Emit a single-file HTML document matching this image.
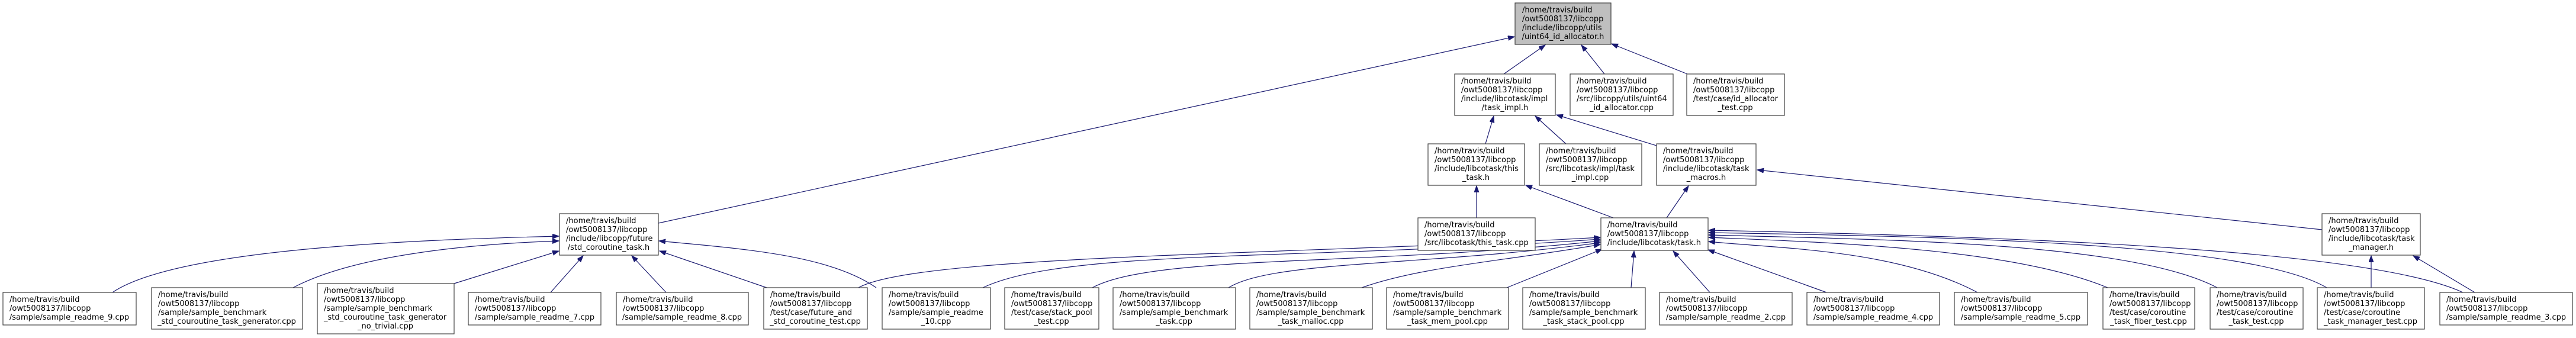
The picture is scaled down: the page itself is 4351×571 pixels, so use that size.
<!DOCTYPE html>
<html><head><meta charset="utf-8"><style>
html,body{margin:0;padding:0;background:#fff;}
svg{display:block;}
text{font-family:"DejaVu Sans","Liberation Sans",sans-serif;font-size:13px;fill:#000;}
.b{fill:#fff;stroke:#404040;stroke-width:1.2;}
.g{fill:#bfbfbf;stroke:#404040;stroke-width:1.2;}
.e{fill:none;stroke:#191970;stroke-width:1.2;marker-end:url(#a);}
.c{text-anchor:middle;}
</style></head><body>
<svg width="4351" height="571" viewBox="0 0 4351 571" xmlns="http://www.w3.org/2000/svg">
<defs><marker id="a" markerUnits="userSpaceOnUse" markerWidth="12" markerHeight="10" refX="11" refY="4" orient="auto"><path d="M0,0 L11,4 L0,8 z" fill="#191970" stroke="#191970"/></marker></defs>

<!-- edges -->
<path class="e" d="M1112,377 L2558,62"/>
<path class="e" d="M2540,125 L2610,76"/>
<path class="e" d="M2710,125 L2671,76"/>
<path class="e" d="M2850,125 L2722,74"/>
<path class="e" d="M2509,243 L2523,196"/>
<path class="e" d="M2645,243 L2593,196"/>
<path class="e" d="M2798,246 L2629,194"/>
<path class="e" d="M2494,368 L2494,314"/>
<path class="e" d="M2725,368 L2577,313"/>
<path class="e" d="M2815,368 L2852,314"/>
<path class="e" d="M3922,388 L2968,287"/>
<path class="e" d="M4005,486 L4005,432"/>
<path class="e" d="M4180,494 L4076,432"/>

<!-- std_coroutine_task.h children -->
<path class="e" d="M190,494 C300,420 700,405 944,399"/>
<path class="e" d="M495,486 C600,430 800,412 944,407"/>
<path class="e" d="M767,479 L944,424"/>
<path class="e" d="M930,494 L985,432"/>
<path class="e" d="M1125,494 L1067,432"/>
<path class="e" d="M1295,486 L1114,424"/>
<path class="e" d="M1480,486 C1400,430 1250,420 1113,407"/>

<!-- task.h children -->
<path class="e" d="M1450,486 C1550,430 2200,430 2703,401"/>
<path class="e" d="M1660,486 C1800,420 2200,440 2703,404"/>
<path class="e" d="M1845,486 C1950,430 2300,450 2703,407"/>
<path class="e" d="M2075,486 C2150,440 2400,450 2703,410"/>
<path class="e" d="M2300,486 C2400,450 2550,440 2703,413"/>
<path class="e" d="M2545,486 L2706,421"/>
<path class="e" d="M2755,486 L2760,424"/>
<path class="e" d="M2888,494 L2826,424"/>
<path class="e" d="M3085,494 L2885,422"/>
<path class="e" d="M3340,494 C3200,420 3000,420 2886,408"/>
<path class="e" d="M3560,486 C3400,420 3100,410 2886,401"/>
<path class="e" d="M3745,486 C3600,410 3200,405 2886,397"/>
<path class="e" d="M3930,486 C3800,410 3300,400 2886,393"/>
<path class="e" d="M4160,494 C4000,420 3400,400 2886,389"/>

<!-- nodes -->
<rect class="g" x="2559" y="5" width="162" height="70"/>
<text x="2571" y="21">/home/travis/build</text><text x="2571" y="36">/owt5008137/libcopp</text><text x="2571" y="51">/include/libcopp/utils</text><text x="2640" y="66" class="c">/uint64_id_allocator.h</text>

<rect class="b" x="2457" y="125" width="170" height="70"/>
<text x="2468" y="141">/home/travis/build</text><text x="2468" y="156">/owt5008137/libcopp</text><text x="2468" y="171">/include/libcotask/impl</text><text x="2542" y="186" class="c">/task_impl.h</text>

<rect class="b" x="2652" y="125" width="174" height="70"/>
<text x="2663" y="141">/home/travis/build</text><text x="2663" y="156">/owt5008137/libcopp</text><text x="2663" y="171">/src/libcopp/utils/uint64</text><text x="2739" y="186" class="c">_id_allocator.cpp</text>

<rect class="b" x="2849" y="125" width="165" height="70"/>
<text x="2860" y="141">/home/travis/build</text><text x="2860" y="156">/owt5008137/libcopp</text><text x="2860" y="171">/test/case/id_allocator</text><text x="2931" y="186" class="c">_test.cpp</text>

<rect class="b" x="2412" y="243" width="163" height="70"/>
<text x="2423" y="259">/home/travis/build</text><text x="2423" y="274">/owt5008137/libcopp</text><text x="2423" y="289">/include/libcotask/this</text><text x="2493" y="304" class="c">_task.h</text>

<rect class="b" x="2600" y="243" width="173" height="70"/>
<text x="2611" y="259">/home/travis/build</text><text x="2611" y="274">/owt5008137/libcopp</text><text x="2611" y="289">/src/libcotask/impl/task</text><text x="2686" y="304" class="c">_impl.cpp</text>

<rect class="b" x="2798" y="243" width="168" height="70"/>
<text x="2809" y="259">/home/travis/build</text><text x="2809" y="274">/owt5008137/libcopp</text><text x="2809" y="289">/include/libcotask/task</text><text x="2882" y="304" class="c">_macros.h</text>

<rect class="b" x="945" y="361" width="167" height="70"/>
<text x="956" y="377">/home/travis/build</text><text x="956" y="392">/owt5008137/libcopp</text><text x="956" y="407">/include/libcopp/future</text><text x="1028" y="422" class="c">/std_coroutine_task.h</text>

<rect class="b" x="2395" y="368" width="198" height="55"/>
<text x="2406" y="384">/home/travis/build</text><text x="2406" y="399">/owt5008137/libcopp</text><text x="2494" y="414" class="c">/src/libcotask/this_task.cpp</text>

<rect class="b" x="2704" y="368" width="181" height="55"/>
<text x="2715" y="384">/home/travis/build</text><text x="2715" y="399">/owt5008137/libcopp</text><text x="2794" y="414" class="c">/include/libcotask/task.h</text>

<rect class="b" x="3922" y="361" width="166" height="70"/>
<text x="3933" y="377">/home/travis/build</text><text x="3933" y="392">/owt5008137/libcopp</text><text x="3933" y="407">/include/libcotask/task</text><text x="4005" y="422" class="c">_manager.h</text>

<!-- bottom row -->
<rect class="b" x="5" y="494" width="225" height="55"/>
<text x="16" y="510">/home/travis/build</text><text x="16" y="525">/owt5008137/libcopp</text><text x="117" y="540" class="c">/sample/sample_readme_9.cpp</text>

<rect class="b" x="256" y="486" width="255" height="70"/>
<text x="267" y="502">/home/travis/build</text><text x="267" y="517">/owt5008137/libcopp</text><text x="267" y="532">/sample/sample_benchmark</text><text x="383" y="547" class="c">_std_couroutine_task_generator.cpp</text>

<rect class="b" x="536" y="479" width="231" height="85"/>
<text x="547" y="495">/home/travis/build</text><text x="547" y="510">/owt5008137/libcopp</text><text x="547" y="525">/sample/sample_benchmark</text><text x="547" y="540">_std_couroutine_task_generator</text><text x="651" y="555" class="c">_no_trivial.cpp</text>

<rect class="b" x="791" y="494" width="224" height="55"/>
<text x="802" y="510">/home/travis/build</text><text x="802" y="525">/owt5008137/libcopp</text><text x="903" y="540" class="c">/sample/sample_readme_7.cpp</text>

<rect class="b" x="1041" y="494" width="223" height="55"/>
<text x="1052" y="510">/home/travis/build</text><text x="1052" y="525">/owt5008137/libcopp</text><text x="1152" y="540" class="c">/sample/sample_readme_8.cpp</text>

<rect class="b" x="1290" y="486" width="175" height="70"/>
<text x="1301" y="502">/home/travis/build</text><text x="1301" y="517">/owt5008137/libcopp</text><text x="1301" y="532">/test/case/future_and</text><text x="1377" y="547" class="c">_std_coroutine_test.cpp</text>

<rect class="b" x="1490" y="486" width="183" height="70"/>
<text x="1501" y="502">/home/travis/build</text><text x="1501" y="517">/owt5008137/libcopp</text><text x="1501" y="532">/sample/sample_readme</text><text x="1581" y="547" class="c">_10.cpp</text>

<rect class="b" x="1697" y="486" width="159" height="70"/>
<text x="1708" y="502">/home/travis/build</text><text x="1708" y="517">/owt5008137/libcopp</text><text x="1708" y="532">/test/case/stack_pool</text><text x="1776" y="547" class="c">_test.cpp</text>

<rect class="b" x="1880" y="486" width="207" height="70"/>
<text x="1891" y="502">/home/travis/build</text><text x="1891" y="517">/owt5008137/libcopp</text><text x="1891" y="532">/sample/sample_benchmark</text><text x="1983" y="547" class="c">_task.cpp</text>

<rect class="b" x="2111" y="486" width="207" height="70"/>
<text x="2122" y="502">/home/travis/build</text><text x="2122" y="517">/owt5008137/libcopp</text><text x="2122" y="532">/sample/sample_benchmark</text><text x="2214" y="547" class="c">_task_malloc.cpp</text>

<rect class="b" x="2342" y="486" width="206" height="70"/>
<text x="2353" y="502">/home/travis/build</text><text x="2353" y="517">/owt5008137/libcopp</text><text x="2353" y="532">/sample/sample_benchmark</text><text x="2445" y="547" class="c">_task_mem_pool.cpp</text>

<rect class="b" x="2572" y="486" width="207" height="70"/>
<text x="2583" y="502">/home/travis/build</text><text x="2583" y="517">/owt5008137/libcopp</text><text x="2583" y="532">/sample/sample_benchmark</text><text x="2675" y="547" class="c">_task_stack_pool.cpp</text>

<rect class="b" x="2803" y="494" width="224" height="55"/>
<text x="2814" y="510">/home/travis/build</text><text x="2814" y="525">/owt5008137/libcopp</text><text x="2915" y="540" class="c">/sample/sample_readme_2.cpp</text>

<rect class="b" x="3052" y="494" width="224" height="55"/>
<text x="3063" y="510">/home/travis/build</text><text x="3063" y="525">/owt5008137/libcopp</text><text x="3164" y="540" class="c">/sample/sample_readme_4.cpp</text>

<rect class="b" x="3301" y="494" width="225" height="55"/>
<text x="3312" y="510">/home/travis/build</text><text x="3312" y="525">/owt5008137/libcopp</text><text x="3413" y="540" class="c">/sample/sample_readme_5.cpp</text>

<rect class="b" x="3552" y="486" width="155" height="70"/>
<text x="3563" y="502">/home/travis/build</text><text x="3563" y="517">/owt5008137/libcopp</text><text x="3563" y="532">/test/case/coroutine</text><text x="3629" y="547" class="c">_task_fiber_test.cpp</text>

<rect class="b" x="3733" y="486" width="157" height="70"/>
<text x="3744" y="502">/home/travis/build</text><text x="3744" y="517">/owt5008137/libcopp</text><text x="3744" y="532">/test/case/coroutine</text><text x="3811" y="547" class="c">_task_test.cpp</text>

<rect class="b" x="3914" y="486" width="181" height="70"/>
<text x="3925" y="502">/home/travis/build</text><text x="3925" y="517">/owt5008137/libcopp</text><text x="3925" y="532">/test/case/coroutine</text><text x="4004" y="547" class="c">_task_manager_test.cpp</text>

<rect class="b" x="4121" y="494" width="224" height="55"/>
<text x="4132" y="510">/home/travis/build</text><text x="4132" y="525">/owt5008137/libcopp</text><text x="4233" y="540" class="c">/sample/sample_readme_3.cpp</text>
</svg>
</body></html>
